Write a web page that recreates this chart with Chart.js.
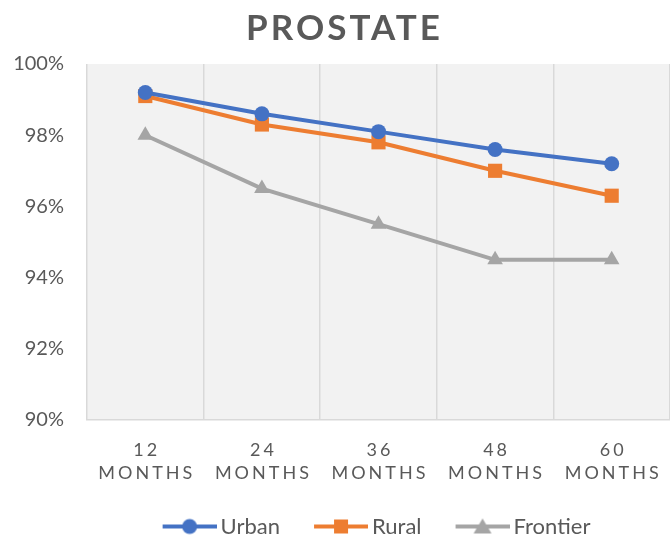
<!DOCTYPE html>
<html>
<head>
<meta charset="utf-8">
<script src="https://cdn.jsdelivr.net/npm/chart.js@4/dist/chart.umd.min.js"></script>
<style>
  html, body { margin: 0; padding: 0; background: #ffffff; }
  #wrap { width: 670px; height: 538px; position: relative; }
</style>
</head>
<body>
<div id="wrap"><canvas id="c" width="670" height="538"></canvas></div>
<script>
const chartTitle = 'PROSTATE';
const monthNumbers = ['12', '24', '36', '48', '60'];
const monthWord = 'MONTHS';
const seriesNames = ['Urban', 'Rural', 'Frontier'];
const urbanValues = [99.2, 98.6, 98.1, 97.6, 97.2];
const ruralValues = [99.1, 98.3, 97.8, 97.0, 96.3];
const frontierValues = [98.0, 96.5, 95.5, 94.5, 94.5];
const yTicks = [90, 92, 94, 96, 98, 100];

const colors = ['#4472C4', '#ED7D31', '#A5A5A5'];
const shapes = ['circle', 'rect', 'triangle'];
const textColor = '#595959';
const fontFamily = 'Lato, "Open Sans", "Liberation Sans", sans-serif';

// legend icon: transparent left part, line + marker in the right 54px
const ICON_P = 72;            // pointStyleWidth
const ICON_W = ICON_P + 14;   // image width
function legendIcon(color, shape) {
  const c = document.createElement('canvas');
  c.width = ICON_W; c.height = 18;
  const g = c.getContext('2d');
  const x0 = ICON_W - 54, cx = ICON_W - 27;
  g.strokeStyle = color; g.lineWidth = 4;
  g.beginPath(); g.moveTo(x0, 9); g.lineTo(ICON_W, 9); g.stroke();
  g.fillStyle = color;
  g.beginPath();
  if (shape === 'circle') { g.arc(cx, 9, 7.5, 0, Math.PI * 2); }
  else if (shape === 'rect') { g.rect(cx - 7, 2, 14, 14); }
  else { g.moveTo(cx, 1); g.lineTo(cx + 9, 16); g.lineTo(cx - 9, 16); g.closePath(); }
  g.fill();
  return c;
}
const icons = colors.map((c, i) => legendIcon(c, shapes[i]));

const labels = monthNumbers.map(n => [n, monthWord]);
const allValues = [urbanValues, ruralValues, frontierValues];
const radii = [7.5, 10, 9];

const datasets = seriesNames.map((name, i) => ({
  label: name,
  data: allValues[i],
  borderColor: colors[i],
  backgroundColor: colors[i],
  borderWidth: 4,
  pointStyle: shapes[i],
  pointRadius: radii[i],
  pointHoverRadius: radii[i],
  pointBorderWidth: 0,
  tension: 0
}));

const plotBg = {
  id: 'plotBg',
  beforeDraw(chart) {
    const a = chart.chartArea, ctx = chart.ctx;
    ctx.save();
    ctx.fillStyle = '#F2F2F2';
    ctx.fillRect(a.left, a.top, a.right - a.left, a.bottom - a.top);
    ctx.restore();
  }
};

function patchDraw(obj, method, spacing, dx, ctxGetter) {
  if (obj['_sp_' + method]) return;
  const orig = obj[method].bind(obj);
  obj[method] = function(...args) {
    const ctx = ctxGetter();
    ctx.save();
    if (spacing) ctx.letterSpacing = spacing + 'px';
    ctx.translate(spacing / 2 + dx, 0);
    orig(...args);
    ctx.restore();
  };
  obj['_sp_' + method] = true;
}

const textTweaks = {
  id: 'textTweaks',
  afterUpdate(chart) {
    patchDraw(chart.scales.x, 'drawLabels', 3, 0, () => chart.ctx);
    if (chart.titleBlock) patchDraw(chart.titleBlock, 'draw', 3, 8, () => chart.ctx);
    if (chart.legend) patchDraw(chart.legend, 'draw', 0, 29, () => chart.ctx);
  }
};

new Chart(document.getElementById('c'), {
  type: 'line',
  data: { labels, datasets },
  plugins: [plotBg, textTweaks],
  options: {
    responsive: false,
    animation: false,
    devicePixelRatio: 1,
    layout: { autoPadding: false, padding: { left: 0, right: 0, top: 0, bottom: -9.5 } },
    plugins: {
      title: {
        display: true,
        text: chartTitle,
        color: textColor,
        font: { family: fontFamily, size: 35, weight: 'bold' },
        padding: { top: 8, bottom: 14 }
      },
      legend: {
        position: 'bottom',
        labels: {
          color: textColor,
          font: { family: fontFamily, size: 22 },
          usePointStyle: true,
          pointStyleWidth: ICON_P,
          padding: 9,
          generateLabels(chart) {
            return chart.data.datasets.map((ds, i) => ({
              text: ds.label,
              fillStyle: ds.backgroundColor,
              strokeStyle: ds.borderColor,
              lineWidth: 0,
              pointStyle: icons[i],
              hidden: false,
              datasetIndex: i,
              fontColor: textColor
            }));
          }
        }
      },
      tooltip: { enabled: false }
    },
    scales: {
      x: {
        offset: true,
        grid: { display: true, offset: true, color: '#D9D9D9', lineWidth: 1.5, drawTicks: false },
        border: { display: true, color: '#D9D9D9', width: 1.5 },
        ticks: {
          color: textColor,
          font: { family: fontFamily, size: 18, lineHeight: 1.3 },
          padding: 18,
          maxRotation: 0,
          autoSkip: false
        },
        afterFit(scale) { scale.height = 86.5; scale.paddingRight = 0; scale.paddingLeft = 0; }
      },
      y: {
        min: 90,
        max: 100,
        afterBuildTicks(scale) { scale.ticks = yTicks.map(v => ({ value: v })); },
        grid: { display: false, drawTicks: false },
        border: { display: false },
        ticks: {
          color: textColor,
          font: { family: fontFamily, size: 20 },
          padding: 23,
          callback: v => v + '%'
        },
        afterFit(scale) { scale.width = 87; scale.paddingTop = 0; scale.paddingBottom = 0; }
      }
    }
  }
});
</script>
</body>
</html>
